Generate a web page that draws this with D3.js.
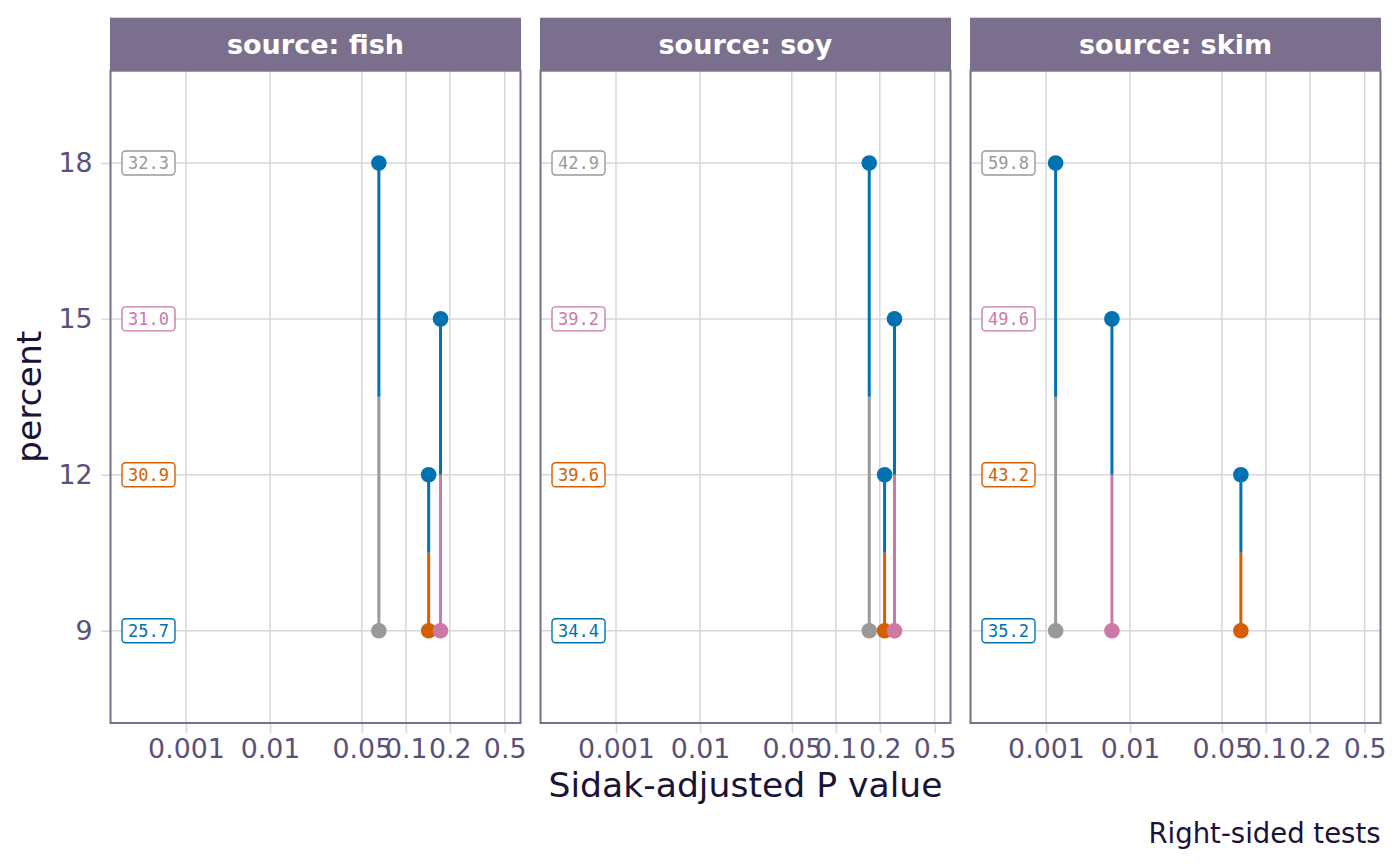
<!DOCTYPE html>
<html>
<head>
<meta charset="utf-8">
<script src="https://cdn.jsdelivr.net/npm/d3@7"></script>
<style>
  body { margin: 0; background: #fff; }
  svg { display: block; font-family: "DejaVu Sans", sans-serif; }
</style>
</head>
<body>
<div id="chart"></div>
<script>
// data (emmeans-style pairwise P-value plot)
const sources = ["fish", "soy", "skim"];
const percentLevels = [9, 12, 15, 18];
const levelColors = ["#0072B2", "#D55E00", "#CC79A7", "#999999"];

// estimated means shown in the boxed labels, one per percent level
const estFish = [25.7, 30.9, 31.0, 32.3];
const estSoy = [34.4, 39.6, 39.2, 42.9];
const estSkim = [35.2, 43.2, 49.6, 59.8];

// comparisons drawn (lower level, upper level) and their adjusted P values
const pairs = [[9, 12], [9, 15], [9, 18]];
const pFish = [0.143, 0.1725, 0.0655];
const pSoy = [0.216, 0.2535, 0.169];
const pSkim = [0.0676, 0.00684, 0.00146];

const pBreaks = [0.001, 0.01, 0.05, 0.1, 0.2, 0.5];
const pLabels = ["0.001", "0.01", "0.05", "0.1", "0.2", "0.5"];

const ests = [estFish, estSoy, estSkim];
const pvals = [pFish, pSoy, pSkim];

const width = 1400, height = 866;
const margin = {top: 70.7, left: 110.5, bottom: 143};
const pw = 410, gap = 20, stripH = 53;
const ph = height - margin.top - margin.bottom;

const stripFill = "#7a708e", inkMid = "#5b5079", inkDark = "#1a1238", gridCol = "#d7d6de";

// P-value axis transformation: squashes both ends of the -log10(p) scale
function erf(x) {
    let s = Math.sign(x);
    x = Math.abs(x);
    let t = 1 / (1 + 0.3275911 * x);
    let y = 1 - (((((1.061405429 * t - 1.453152027) * t) + 1.421413758) * t - 0.284496736) * t + 0.254829592) * t * Math.exp(-x * x);
    return s * y;
}
function pvt(p) {
    return erf((-Math.log10(p) - 1) / 2);
}

let x = d3.scaleLinear().domain([1.132, -0.4395]).range([0, pw]);
let y = d3.scaleLinear().domain([7.225, 19.775]).range([ph, 0]);
let color = d3.scaleOrdinal(percentLevels, levelColors);

let svg = d3.select("#chart").append("svg")
    .attr("width", width)
    .attr("height", height);

sources.forEach(function (src, i) {
    let g = svg.append("g")
        .attr("transform", "translate(" + (margin.left + i * (pw + gap)) + "," + margin.top + ")");

    // strip
    g.append("rect")
        .attr("x", -0.5).attr("y", -stripH)
        .attr("width", pw + 1).attr("height", stripH)
        .attr("fill", stripFill);
    g.append("text")
        .attr("x", pw / 2).attr("y", -stripH / 2)
        .attr("dy", "0.36em")
        .attr("text-anchor", "middle")
        .attr("fill", "#fff")
        .attr("font-weight", "bold")
        .attr("font-size", 27)
        .text("source: " + src);

    // grid
    g.append("g").selectAll("line")
        .data(pBreaks).enter().append("line")
        .attr("x1", d => x(pvt(d))).attr("x2", d => x(pvt(d)))
        .attr("y1", 0).attr("y2", ph)
        .attr("stroke", gridCol).attr("stroke-width", 1.5);
    g.append("g").selectAll("line")
        .data(percentLevels).enter().append("line")
        .attr("x1", 0).attr("x2", pw)
        .attr("y1", d => y(d)).attr("y2", d => y(d))
        .attr("stroke", gridCol).attr("stroke-width", 1.5);

    // x axis
    let xAxis = d3.axisBottom(x)
        .tickValues(pBreaks.map(pvt))
        .tickFormat((d, k) => pLabels[k])
        .tickSize(10).tickSizeOuter(0).tickPadding(6);
    let ax = g.append("g").attr("transform", "translate(0," + ph + ")").call(xAxis);
    ax.select(".domain").remove();
    ax.selectAll("line").attr("stroke", gridCol).attr("stroke-width", 1.5);
    ax.selectAll("text").attr("fill", inkMid).attr("font-size", 26.8)
        .attr("font-family", "DejaVu Sans");

    if (i === 0) {
        let yAxis = d3.axisLeft(y).tickValues(percentLevels)
            .tickSize(9).tickSizeOuter(0).tickPadding(9);
        let ay = g.append("g").call(yAxis);
        ay.select(".domain").remove();
        ay.selectAll("line").attr("stroke", gridCol).attr("stroke-width", 1.5);
        ay.selectAll("text").attr("fill", inkMid).attr("font-size", 26.8)
            .attr("font-family", "DejaVu Sans");
    }

    // comparisons: each half of the segment takes the colour of the other end
    let segs = [];
    pairs.forEach(function (pr, k) {
        let mid = (pr[0] + pr[1]) / 2;
        segs.push({p: pvals[i][k], y0: pr[1], y1: mid, c: color(pr[0])});
        segs.push({p: pvals[i][k], y0: mid, y1: pr[0], c: color(pr[1])});
    });
    g.append("g").selectAll("line")
        .data(segs).enter().append("line")
        .attr("x1", d => x(pvt(d.p))).attr("x2", d => x(pvt(d.p)))
        .attr("y1", d => y(d.y0)).attr("y2", d => y(d.y1))
        .attr("stroke", d => d.c).attr("stroke-width", 3);

    let dots = [];
    pairs.forEach(function (pr, k) {
        dots.push({p: pvals[i][k], lev: pr[1], c: color(pr[0])});
        dots.push({p: pvals[i][k], lev: pr[0], c: color(pr[1])});
    });
    g.append("g").selectAll("circle")
        .data(dots).enter().append("circle")
        .attr("cx", d => x(pvt(d.p)))
        .attr("cy", d => y(d.lev))
        .attr("r", 7.8)
        .attr("fill", d => d.c);

    // boxed estimate labels
    let lab = g.append("g").selectAll("g")
        .data(percentLevels).enter().append("g")
        .attr("transform", d => "translate(38," + y(d) + ")");
    lab.append("rect")
        .attr("x", -26.5).attr("y", -12)
        .attr("width", 53).attr("height", 24)
        .attr("rx", 3.5)
        .attr("fill", "#fff")
        .attr("stroke", d => color(d)).attr("stroke-width", 1.4);
    lab.append("text")
        .attr("text-anchor", "middle")
        .attr("dy", "0.36em")
        .attr("font-family", "DejaVu Sans Mono")
        .attr("font-size", 17)
        .attr("fill", d => color(d))
        .text((d, k) => ests[i][k].toFixed(1));

    // panel border
    g.append("rect")
        .attr("width", pw).attr("height", ph)
        .attr("fill", "none")
        .attr("stroke", stripFill).attr("stroke-width", 2);
});

// titles
let plotMid = margin.left + (3 * pw + 2 * gap) / 2;
svg.append("text")
    .attr("x", plotMid).attr("y", 796.5)
    .attr("text-anchor", "middle")
    .attr("font-size", 34.6)
    .attr("fill", inkDark)
    .text("Sidak-adjusted P value");

svg.append("text")
    .attr("transform", "translate(41," + (margin.top + ph / 2) + ") rotate(-90)")
    .attr("text-anchor", "middle")
    .attr("font-size", 34.6)
    .attr("fill", inkDark)
    .text("percent");

svg.append("text")
    .attr("x", margin.left + 3 * pw + 2 * gap).attr("y", 843)
    .attr("text-anchor", "end")
    .attr("font-size", 27.5)
    .attr("fill", inkDark)
    .text("Right-sided tests");
</script>
</body>
</html>
